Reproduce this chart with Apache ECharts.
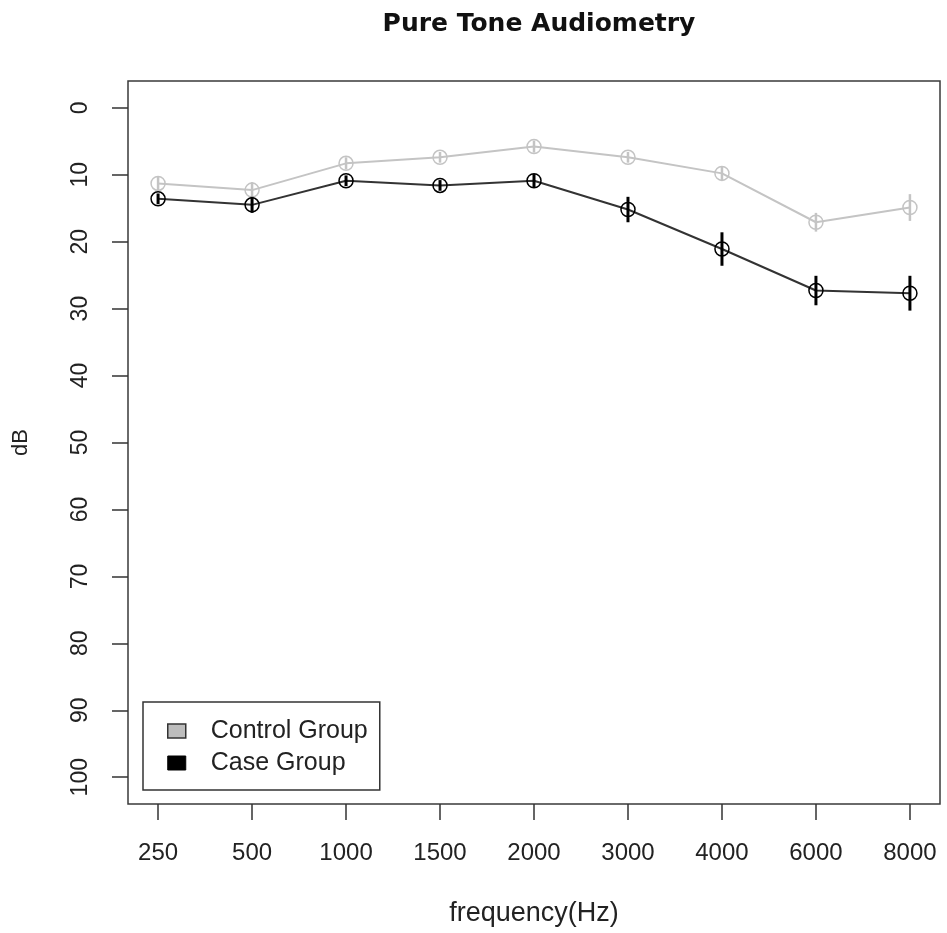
<!DOCTYPE html>
<html>
<head>
<meta charset="utf-8">
<title>Pure Tone Audiometry</title>
<script src="https://cdn.jsdelivr.net/npm/echarts@6/dist/echarts.min.js"></script>
<style>
  html, body { margin: 0; padding: 0; background: #ffffff; }
  #chart { width: 947px; height: 933px; }
</style>
</head>
<body>
<div id="chart"></div>
<script>
// Test frequencies (Hz), shown as evenly spaced categories
var frequencies = ['250', '500', '1000', '1500', '2000', '3000', '4000', '6000', '8000'];

// Mean hearing threshold (dB) and its spread for each group
var controlMean = [11.3, 12.3, 8.3, 7.4, 5.8, 7.4, 9.8, 17.1, 14.9];
var controlSd   = [1.0, 1.2, 0.9, 0.8, 0.9, 0.8, 1.0, 1.4, 2.0];
var caseMean    = [13.6, 14.5, 10.9, 11.6, 10.9, 15.2, 21.1, 27.3, 27.7];
var caseSd      = [0.8, 1.2, 0.8, 0.8, 1.0, 1.9, 2.5, 2.2, 2.6];

// Y tick values (dB)
var dbTicks = [0, 10, 20, 30, 40, 50, 60, 70, 80, 90, 100];

var xPositions = frequencies.map(function (f, i) { return i + 1; });

function pointsOf(means) {
  return means.map(function (m, i) { return [xPositions[i], m]; });
}
function barsOf(means, sds) {
  return means.map(function (m, i) { return [xPositions[i], m - sds[i], m + sds[i]]; });
}
function errorBarRenderer(color, width) {
  return function (params, api) {
    var x = api.value(0);
    var a = api.coord([x, api.value(1)]);
    var b = api.coord([x, api.value(2)]);
    return {
      type: 'line',
      shape: { x1: a[0], y1: a[1], x2: b[0], y2: b[1] },
      style: { stroke: color, lineWidth: width }
    };
  };
}

var sansFont = "'Liberation Sans', Arial, sans-serif";

var chart = echarts.init(document.getElementById('chart'), null, { renderer: 'canvas' });

chart.setOption({
  backgroundColor: '#ffffff',
  animation: false,
  title: {
    text: 'Pure Tone Audiometry',
    left: 534,
    top: 7,
    textAlign: 'center',
    textStyle: {
      fontFamily: "'DejaVu Sans', Verdana, sans-serif",
      fontWeight: 'bold',
      fontSize: 25,
      color: '#111111'
    }
  },
  legend: {
    orient: 'vertical',
    left: 143,
    top: 702,
    padding: [15, 12, 13, 24],
    itemWidth: 18,
    itemHeight: 14,
    itemGap: 4,
    borderColor: '#333333',
    borderWidth: 1.5,
    textStyle: {
      fontFamily: sansFont,
      fontSize: 25,
      lineHeight: 28,
      color: '#222222',
      padding: [0, 0, 0, 20]
    },
    data: [
      { name: 'Control Group', icon: 'rect',
        itemStyle: { color: '#bdbdbd', borderColor: '#333333', borderWidth: 1.5 } },
      { name: 'Case Group', icon: 'rect',
        itemStyle: { color: '#000000', borderColor: '#000000', borderWidth: 1 } }
    ],
    selectedMode: false
  },
  grid: {
    left: 128,
    right: 7,
    top: 81,
    bottom: 129,
    show: true,
    borderColor: '#3a3a3a',
    borderWidth: 1.5,
    backgroundColor: 'transparent'
  },
  xAxis: {
    type: 'value',
    position: 'bottom',
    min: 0.68,
    max: 9.32,
    name: 'frequency(Hz)',
    nameLocation: 'middle',
    nameGap: 96,
    nameTextStyle: { fontFamily: sansFont, fontSize: 27, color: '#222222' },
    axisLine: { show: false, onZero: false },
    splitLine: { show: false },
    axisTick: {
      show: true,
      length: 16,
      customValues: xPositions,
      lineStyle: { color: '#333333', width: 1.5 }
    },
    axisLabel: {
      customValues: xPositions,
      margin: 37,
      fontFamily: sansFont,
      fontSize: 24,
      color: '#222222',
      formatter: function (v) { return frequencies[Math.round(v) - 1]; }
    }
  },
  yAxis: {
    type: 'value',
    position: 'left',
    min: -4,
    max: 104,
    inverse: true,
    name: 'dB',
    nameLocation: 'middle',
    nameRotate: 90,
    nameGap: 96,
    nameTextStyle: { fontFamily: sansFont, fontSize: 22, color: '#222222' },
    axisLine: { show: false, onZero: false },
    splitLine: { show: false },
    axisTick: {
      show: true,
      length: 16,
      customValues: dbTicks,
      lineStyle: { color: '#333333', width: 1.5 }
    },
    axisLabel: {
      customValues: dbTicks,
      rotate: 90,
      margin: 36,
      fontFamily: sansFont,
      fontSize: 23,
      color: '#222222'
    }
  },
  series: [
    {
      name: 'Control Group',
      type: 'line',
      data: pointsOf(controlMean),
      symbol: 'circle',
      symbolSize: 14,
      lineStyle: { color: '#c4c4c4', width: 2 },
      itemStyle: { color: 'rgba(0,0,0,0)', borderColor: '#c4c4c4', borderWidth: 1.5 },
      z: 2
    },
    {
      name: 'Control Group',
      type: 'custom',
      data: barsOf(controlMean, controlSd),
      encode: { x: 0, y: [1, 2] },
      renderItem: errorBarRenderer('#c4c4c4', 2.5),
      z: 3
    },
    {
      name: 'Case Group',
      type: 'line',
      data: pointsOf(caseMean),
      symbol: 'circle',
      symbolSize: 14,
      lineStyle: { color: '#333333', width: 2 },
      itemStyle: { color: 'rgba(0,0,0,0)', borderColor: '#000000', borderWidth: 1.5 },
      z: 4
    },
    {
      name: 'Case Group',
      type: 'custom',
      data: barsOf(caseMean, caseSd),
      encode: { x: 0, y: [1, 2] },
      renderItem: errorBarRenderer('#000000', 3),
      z: 5
    }
  ]
});
</script>
</body>
</html>
